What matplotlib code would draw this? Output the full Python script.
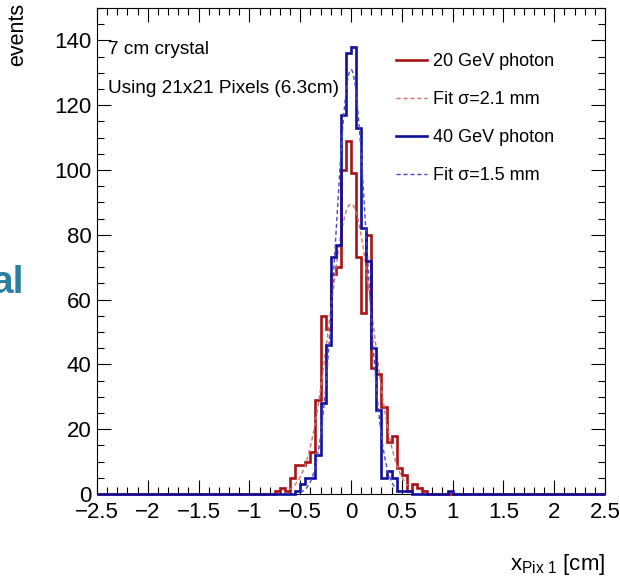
import numpy as np
import matplotlib
matplotlib.use("Agg")
import matplotlib.pyplot as plt
from matplotlib.ticker import MultipleLocator, FixedLocator, FixedFormatter

plt.rcParams['font.family'] = ['Liberation Sans', 'DejaVu Sans']
plt.rcParams['mathtext.fontset'] = 'custom'
plt.rcParams['mathtext.rm'] = 'Liberation Sans'
plt.rcParams['mathtext.it'] = 'Liberation Sans:italic'

# histogram binning (cm)
bin_lo, bin_hi, bin_w = -2.5, 2.5, 0.05

# 20 GeV photon, counts per bin starting at red_start
red_start = -0.75
red_counts = [1, 2, 1, 5, 9, 9, 10, 13, 29, 55, 51, 68, 70, 100, 109,
              99, 73, 56, 80, 39, 37, 27, 16, 18, 8, 6, 1, 3, 2, 1]

# 40 GeV photon, counts per bin starting at blue_start
blue_start = -0.55
blue_counts = [1, 3, 5, 5, 12, 28, 46, 73, 77, 117, 136, 138, 113, 82, 72,
               45, 26, 5, 7, 5, 1, 1, 1, 0, 0, 0, 0, 0, 0, 0, 1]

# gaussian fits: amplitude, mean, sigma (cm), drawn range
red_fit = [89.5, 0.0, 0.21]
red_fit_range = [-0.61, 0.56]
blue_fit = [131.0, 0.0, 0.15]
blue_fit_range = [-0.50, 0.44]

labels = ['20 GeV photon', 'Fit \u03c3=2.1 mm', '40 GeV photon', 'Fit \u03c3=1.5 mm']
x_ticks = [-2.5, -2, -1.5, -1, -0.5, 0, 0.5, 1, 1.5, 2, 2.5]
x_tick_labels = ['\u22122.5', '\u22122', '\u22121.5', '\u22121', '\u22120.5', '0',
                 '0.5', '1', '1.5', '2', '2.5']
y_ticks = [0, 20, 40, 60, 80, 100, 120, 140]

c_red = '#a81414'
c_red_fit = '#d07070'
c_blue = '#10109c'
c_blue_fit = '#4a4ac8'

edges = np.round(np.arange(bin_lo, bin_hi + bin_w / 2, bin_w), 4)
nb = len(edges) - 1


def full_hist(start, counts):
    h = np.zeros(nb)
    i0 = int(round((start - bin_lo) / bin_w))
    h[i0:i0 + len(counts)] = counts
    return h


def gaus(p, rng):
    x = np.linspace(rng[0], rng[1], 300)
    return x, p[0] * np.exp(-0.5 * ((x - p[1]) / p[2]) ** 2)


fig = plt.figure(figsize=(6.2, 5.8), dpi=100)
ax = fig.add_axes([97 / 620, 1 - 494 / 580, 508 / 620, 486 / 580])

h_red = full_hist(red_start, red_counts)
h_blue = full_hist(blue_start, blue_counts)

ax.stairs(h_red, edges, color=c_red, lw=1.9, clip_on=False, zorder=3)
xr, yr = gaus(red_fit, red_fit_range)
ax.plot(xr, yr, color=c_red_fit, lw=1.0, ls=(0, (3, 2)), zorder=4)
ax.stairs(h_blue, edges, color=c_blue, lw=1.9, clip_on=False, zorder=5)
xb, yb = gaus(blue_fit, blue_fit_range)
ax.plot(xb, yb, color=c_blue_fit, lw=1.0, ls=(0, (3, 2)), zorder=6)

ax.set_xlim(-2.5, 2.5)
ax.set_ylim(0, 150)

ax.xaxis.set_major_locator(FixedLocator(x_ticks))
ax.xaxis.set_major_formatter(FixedFormatter(x_tick_labels))
ax.xaxis.set_minor_locator(MultipleLocator(0.1))
ax.yaxis.set_major_locator(FixedLocator(y_ticks))
ax.yaxis.set_minor_locator(MultipleLocator(5))
ax.tick_params(which='both', direction='in', top=True, right=True, width=0.8)
ax.tick_params(which='major', length=10, labelsize=16)
ax.tick_params(which='minor', length=5)
ax.tick_params(axis='x', pad=6)
ax.tick_params(axis='y', pad=4)
for s in ax.spines.values():
    s.set_linewidth(0.8)

ax.text(0.022, 0.914, '7 cm crystal', transform=ax.transAxes, fontsize=13.7,
        ha='left', va='center')
ax.text(0.022, 0.834, 'Using 21x21 Pixels (6.3cm)', transform=ax.transAxes,
        fontsize=13.7, ha='left', va='center')

handles = [
    plt.Line2D([], [], color=c_red, lw=1.9),
    plt.Line2D([], [], color=c_red_fit, lw=1.0, ls=(0, (3, 2))),
    plt.Line2D([], [], color=c_blue, lw=1.9),
    plt.Line2D([], [], color=c_blue_fit, lw=1.0, ls=(0, (3, 2))),
]
fig.legend(handles, labels, loc='upper left', bbox_to_anchor=(396 / 620, 1 - 53 / 580),
           frameon=False, fontsize=13, handlelength=1.7, handletextpad=0.35,
           labelspacing=1.17, borderpad=0, borderaxespad=0)

fig.text(0.029, 0.995, 'events', rotation=90, fontsize=15.5, ha='center', va='top')
fig.text(605 / 620, 0.018, r'x$_{\mathrm{Pix\ 1}}$ [cm]', fontsize=16,
         ha='right', va='baseline')
fig.text(24 / 620, 1 - 293 / 580, 'al', fontsize=28, fontweight='bold',
         color='#2a7fa3', ha='right', va='baseline')

fig.savefig('out.png', dpi=100)
